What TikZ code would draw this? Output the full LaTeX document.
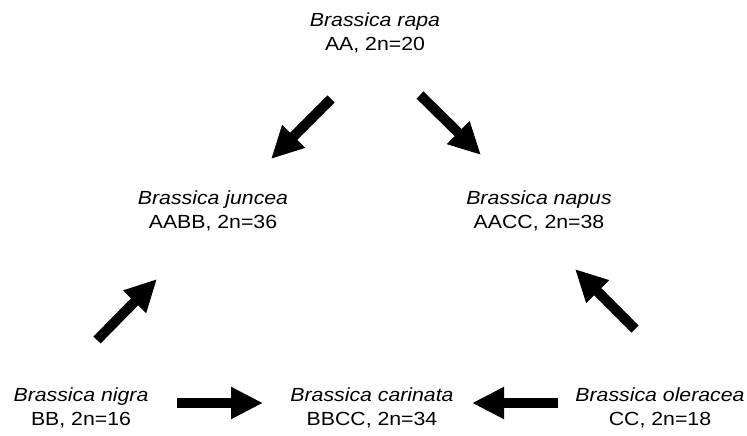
\documentclass[tikz,border=0pt]{standalone}
\usepackage{fontspec}
\setmainfont{Liberation Sans}[FakeStretch=1.12]
\usetikzlibrary{arrows.meta}
\begin{document}
\begin{tikzpicture}[x=1pt,y=-1pt,
  species/.style={align=center,inner sep=0pt,font=\fontsize{19}{23.5}\selectfont},
  bigarrow/.style={line width=10pt,line cap=butt,-{Triangle[length=32pt,width=30pt]}}]
\useasboundingbox (0,0) rectangle (747,436);
\node[species] (rapa) at (375,33) {\textit{Brassica rapa}\\AA, 2n=20};
\node[species] (juncea) at (213,211) {\textit{Brassica juncea}\\AABB, 2n=36};
\node[species] (napus) at (539,211) {\textit{Brassica napus}\\AACC, 2n=38};
\node[species] (nigra) at (81,408) {\textit{Brassica nigra}\\BB, 2n=16};
\node[species] (carinata) at (372,408) {\textit{Brassica carinata}\\BBCC, 2n=34};
\node[species] (oleracea) at (660,408) {\textit{Brassica oleracea}\\CC, 2n=18};
\coordinate (a1s) at (331,99);  \coordinate (a1e) at (271,159);
\coordinate (a2s) at (420,95);  \coordinate (a2e) at (481,155);
\coordinate (a3s) at (97,340);  \coordinate (a3e) at (157,279);
\coordinate (a4s) at (635,329); \coordinate (a4e) at (575,269);
\coordinate (a5s) at (177,403); \coordinate (a5e) at (263,403);
\coordinate (a6s) at (558,403); \coordinate (a6e) at (472,403);
\draw[bigarrow] (a1s) -- (a1e);
\draw[bigarrow] (a2s) -- (a2e);
\draw[bigarrow] (a3s) -- (a3e);
\draw[bigarrow] (a4s) -- (a4e);
\draw[bigarrow] (a5s) -- (a5e);
\draw[bigarrow] (a6s) -- (a6e);
\end{tikzpicture}
\end{document}
